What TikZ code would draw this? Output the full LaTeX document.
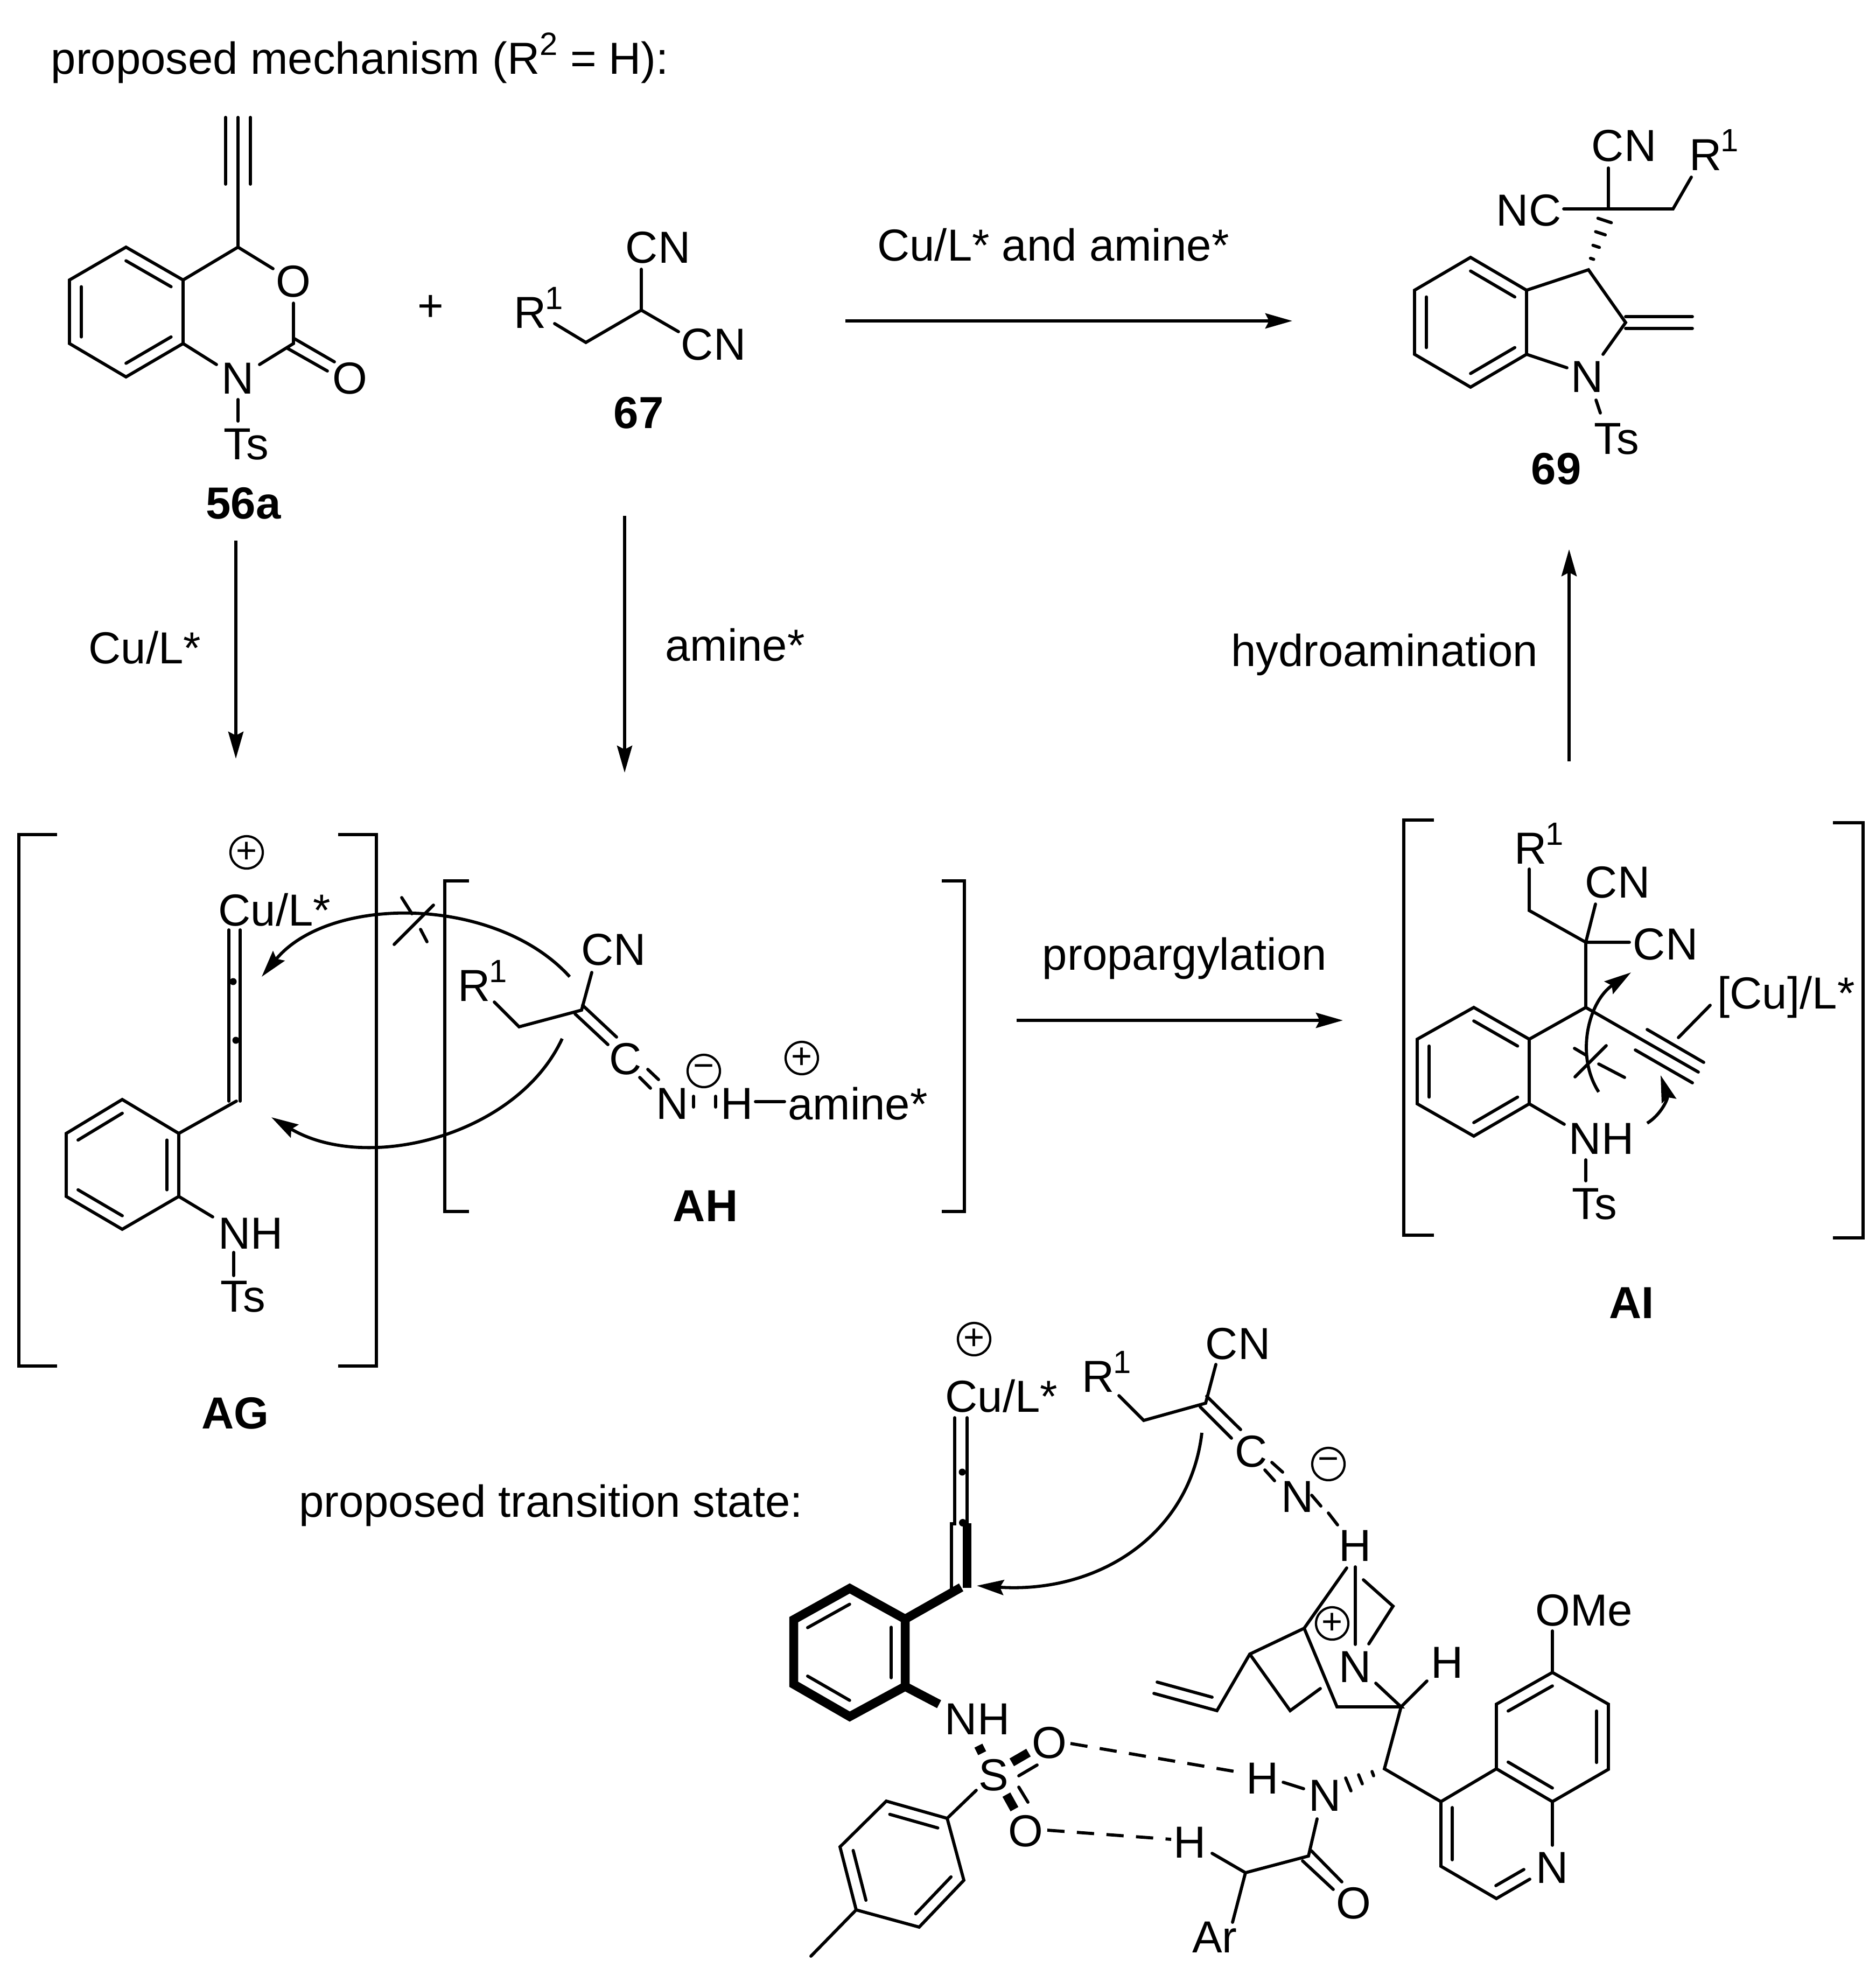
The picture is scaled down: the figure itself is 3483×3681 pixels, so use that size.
\documentclass[tikz,border=0pt]{standalone}
\usepackage{fontspec}
\setmainfont{Liberation Sans}
\usetikzlibrary{arrows.meta,calc}
\tikzset{
	bond/.style={line width=1.65pt, line cap=round},
	heavy/.style={line width=4.7pt},
	rxn/.style={line width=1.65pt, -{Stealth[length=0.5cm, width=0.28cm, inset=0.07cm]}},
	hbond/.style={line width=1.65pt, dash pattern=on 0.32cm off 0.23cm},
	txt/.style={font=\fontsize{23.7}{27}\selectfont, inner sep=0pt},
	sup/.style={font=\fontsize{17}{20}\selectfont, inner sep=0pt},
	tag/.style={font=\fontsize{23.7}{27}\selectfont\bfseries, inner sep=0pt},
	charge/.style={circle, draw, line width=1.2pt, minimum size=0.6cm, inner sep=0pt, font=\fontsize{19}{20}\selectfont},
}
\newcommand{\ringin}{.79}
\newcommand{\hexring}[8][bond]{%
	\coordinate (#2a) at (#3); \coordinate (#2b) at (#4); \coordinate (#2c) at (#5);
	\coordinate (#2d) at (#6); \coordinate (#2e) at (#7); \coordinate (#2f) at (#8);
	\coordinate (#2o) at ($(#2a)!.5!(#2d)$);
	\draw[#1, line cap=butt] (#2a) -- (#2b) -- (#2c) -- (#2d) -- (#2e) -- (#2f) -- cycle;
	\foreach \u/\v in {a/b, c/d, e/f}
		\draw[bond] ($(#2o)!\ringin!(#2\u)$) -- ($(#2o)!\ringin!(#2\v)$);
}
\begin{document}
\begin{tikzpicture}[x=0.01cm, y=-0.01cm]
	\useasboundingbox (0,0) rectangle (3483,3681);
	\node[txt, anchor=west] (title) at (94,108) {proposed mechanism (R\raisebox{0.42em}{\fontsize{17}{20}\selectfont 2} = H):};
	\node[txt] (tstitle) at (1023,2796) {proposed transition state:};

	% brackets
	\foreach \x/\a/\t/\b in {35/106/1550/2537, 699/628/1550/2537, 826/871/1636/2250, 1791/1749/1636/2250, 2607/2663/1523/2294, 3460/3404/1528/2299}
		\draw[bond, line cap=butt] (\a,\t) -| (\x,\b) -- (\a,\b);

	% R1 groups
	\foreach \n/\p in {rb/{985,581}, rc/{3168,288}, rd/{881,1831}, re/{2843,1576}, rf/{2040,2557}} {
		\node[txt] (\n) at (\p) {R};
		\node[sup] at ($(\n)+(44,-27)$) {1};
	}

	% 56a
	\hexring{oxa}{234,459}{340,520}{340,638}{234,700}{129,638}{129,520}
	\node[txt] (oxaO) at (545,523) {O};
	\node[txt] (oxaN) at (442,703) {N};
	\node[txt] (oxaCO) at (650,703) {O};
	\node[txt] (oxaTs) at (457,825) {Ts};
	\node[tag] (n56a) at (452,935) {56a};
	\node[txt] (plus) at (800,572) {+};
	\coordinate (oxaC) at (442,459);
	\coordinate (oxaK) at (545,638);
	\draw[bond] (oxab) -- (oxaC) -- (507,499);
	\draw[bond] (oxaC) -- (442,218);
	\draw[bond] (419,218) -- (419,342) (465,218) -- (465,342);
	\draw[bond] (545,563) -- (oxaK) -- (482,677);
	\draw[bond] (oxac) -- (402,677);
	\draw[bond] (545,628) -- (621,672) (534,647) -- (608,689);
	\draw[bond] (442,742) -- (442,782);

	% 67
	\node[txt] (cnb) at (1222,460) {CN};
	\node[txt] (cnc) at (1325,640) {CN};
	\node[tag] (n67) at (1186,767) {67};
	\draw[bond] (1030,601) -- (1088,636) -- (1191,576) -- (1191,500);
	\draw[bond] (1191,576) -- (1260,616);

	% 69
	\hexring{ind}{2731,478}{2835,539}{2835,658}{2731,719}{2627,658}{2627,539}
	\node[txt] (indN) at (2948,700) {N};
	\node[txt] (indTs) at (3002,815) {Ts};
	\node[txt] (indCN) at (3016,271) {CN};
	\node[txt] (indNC) at (2839,391) {NC};
	\node[tag] (n69) at (2890,871) {69};
	\coordinate (indC) at (2950,501);
	\coordinate (indD) at (3019,599);
	\coordinate (indQ) at (2987,388);
	\draw[bond] (indb) -- (indC) -- (indD) -- (2977,658);
	\draw[bond] (indc) -- (2910,683);
	\draw[bond] (2964,743) -- (2972,767);
	\draw[bond] (indD) ++(0,-11) -- (3143,588) (indD) ++(0,11) -- (3143,610);
	\draw[bond] (2904,388) -- (indQ) -- (3107,388) -- (3141,329);
	\draw[bond] (indQ) -- (2987,312);
	\foreach \t/\w in {.18/3,.385/6,.6/9,.81/12.5}
		\draw[bond] ($(indC)!\t!(indQ)+(-\w,{-\w*.33})$) -- ($(indC)!\t!(indQ)+(\w,{\w*.33})$);

	% AG
	\hexring{ag}{332,2105}{332,2222}{227,2283}{123,2222}{123,2105}{227,2042}
	\node[txt] (agCu) at (510,1690) {Cu/L*};
	\node[charge] (agPlus) at (458,1583) {+};
	\node[txt] (agNH) at (466,2291) {NH};
	\node[txt] (agTs) at (451,2408) {Ts};
	\node[tag] (nAG) at (437,2625) {AG};
	\draw[bond] (aga) -- (439,2045);
	\draw[bond] (425,1727) -- (425,2045) (446,1727) -- (446,2045);
	\fill (433,1823) circle [radius=0.065cm] (438,1932) circle [radius=0.065cm];
	\draw[bond] (agb) -- (395,2260);
	\draw[bond] (434,2326) -- (434,2369);

	% AH
	\node[txt] (ahCN) at (1140,1764) {CN};
	\node[txt] (ahC) at (1162,1967) {C};
	\node[txt] (ahN) at (1249,2050) {N};
	\node[txt] (ahH) at (1369,2050) {H};
	\node[txt] (ahAm) at (1593,2050) {amine*};
	\node[charge] (ahPlus) at (1489,1965) {+};
	\node[charge] (ahMinus) at (1307,1989) {−};
	\node[tag] (nAH) at (1310,2240) {AH};
	\draw[bond] (918,1861) -- (964,1907) -- (1080,1876) -- (1099,1806);
	\draw[bond] (1082,1867) -- (1145,1926) (1068,1883) -- (1129,1940);
	\draw[bond] (1203,1986) -- (1223,2005) (1188,2001) -- (1208,2021);
	\draw[bond] (1288,2036) -- (1288,2056) (1329,2036) -- (1329,2056);
	\draw[bond] (1403,2046) -- (1457,2046);

	% AI
	\hexring{ai}{2737,1871}{2840,1930}{2840,2050}{2737,2110}{2632,2050}{2632,1930}
	\node[txt] (aiCNa) at (3004,1639) {CN};
	\node[txt] (aiCNb) at (3093,1754) {CN};
	\node[txt] (aiCu) at (3317,1852) {[Cu]/L*};
	\node[txt] (aiNH) at (2974,2115) {NH};
	\node[txt] (aiTs) at (2961,2236) {Ts};
	\node[tag] (nAI) at (3030,2420) {AI};
	\coordinate (aiC) at (2945,1871);
	\coordinate (aiQ) at (2945,1750);
	\draw[bond] (aib) -- (aiC) -- (aiQ) -- (2840,1691) -- (2840,1614);
	\draw[bond] (aiQ) -- (2963,1679) (aiQ) -- (3026,1750);
	\draw[bond] (aiC) -- (3154,1991);
	\draw[bond] (3059,1912) -- (3164,1973) (3037,1950) -- (3143,2011);
	\draw[bond] (3117,1927) -- (3176,1867);
	\draw[bond] (aic) -- (2905,2088);
	\draw[bond] (2945,2154) -- (2945,2193);

	% reaction arrows
	\coordinate (rxAa) at (1570,596);
	\coordinate (rxAb) at (2400,596);
	\coordinate (rxBa) at (438,1004);
	\coordinate (rxBb) at (438,1409);
	\coordinate (rxCa) at (1160,958);
	\coordinate (rxCb) at (1160,1435);
	\coordinate (rxDa) at (1888,1895);
	\coordinate (rxDb) at (2494,1895);
	\coordinate (rxEa) at (2914,1414);
	\coordinate (rxEb) at (2914,1020);
	\foreach \a/\b in {rxAa/rxAb, rxBa/rxBb, rxCa/rxCb, rxDa/rxDb, rxEa/rxEb}
		\draw[rxn] (\a) -- (\b);
	\node[txt] (lbA) at (1956,455) {Cu/L* and amine*};
	\node[txt] (lbB) at (269,1203) {Cu/L*};
	\node[txt] (lbC) at (1365,1198) {amine*};
	\node[txt] (lbD) at (2200,1780) {propargylation};
	\node[txt] (lbE) at (2571,1216) {hydroamination};

	% curved arrows
	\draw[rxn] (1058,1814) .. controls (920,1662) and (611,1662) .. (486,1814);
	\draw[rxn] (1044,1929) .. controls (960,2110) and (680,2180) .. (504,2075);
	\draw[rxn] (2969,2028) .. controls (2925,1960) and (2950,1860) .. (3029,1806);
	\draw[rxn] (3059,2086) .. controls (3085,2070) and (3098,2040) .. (3084,1997);
	\draw[bond] (805,1681) -- (732,1754) (746,1667) -- (765,1697) (781,1726) -- (793,1749);
	\draw[bond] (2983,1942) -- (2925,2000) (2924,1947) -- (2946,1960) (2969,1976) -- (3017,2001);

	% transition state
	\renewcommand{\ringin}{.75}
	\hexring[heavy]{ts}{1681,3007}{1681,3132}{1578,3188}{1474,3128}{1474,3008}{1578,2950}
	\renewcommand{\ringin}{.79}
	\node[txt] (tsCu) at (1860,2593) {Cu/L*};
	\node[charge] (tsPlus) at (1809,2487) {+};
	\node[txt] (tsCN) at (2299,2496) {CN};
	\node[txt] (tsC) at (2324,2696) {C};
	\node[txt] (tsN) at (2410,2780) {N};
	\node[charge] (tsMinus) at (2467,2719) {−};
	\node[txt] (tsH) at (2517,2871) {H};
	\draw[bond] (1773,2633) -- (1773,2830) -- (1767,2830) -- (1767,2950);
	\draw[bond] (1796,2633) -- (1796,2830);
	\draw[heavy] (1796,2829) -- (1796,2949);
	\draw[heavy] (tsa) -- (1785,2948);
	\fill (1787,2734) circle [radius=0.065cm] (1788,2828) circle [radius=0.07cm];
	\draw[bond] (2078,2592) -- (2124,2638) -- (2239,2606) -- (2258,2534);
	\draw[bond] (2241,2593) -- (2304,2655) (2229,2613) -- (2287,2671);
	\draw[bond] (2362,2716) -- (2382,2734) (2349,2730) -- (2367,2750);
	\draw[bond] (2436,2777) -- (2453,2797) (2467,2810) -- (2484,2832);
	\draw[rxn] (2232,2661) .. controls (2210,2850) and (2040,2960) .. (1814,2945);

	% quinuclidine
	\node[txt] (qnN) at (2517,3096) {N};
	\node[charge] (qnPlus) at (2474,3015) {+};
	\node[txt] (qnH) at (2688,3088) {H};
	\coordinate (qnJ) at (2422,3024);
	\coordinate (qnV) at (2321,3072);
	\coordinate (qnK) at (2602,3170);
	\draw[bond] (2517,2910) -- (2517,3054);
	\draw[bond] (2501,2912) -- (qnJ) -- (qnV) -- (2260,3177) -- (2143,3145);
	\draw[bond] (2251,3152) -- (2149,3124);
	\draw[bond] (2532,2934) -- (2587,2983) -- (2542,3053);
	\draw[bond] (qnV) -- (2396,3177) -- (2452,3136);
	\draw[bond] (qnJ) -- (2483,3170) -- (qnK) -- (2555,3126);
	\draw[bond] (qnK) -- (2650,3122);

	% quinoline
	\hexring{qa}{2779,3165}{2883,3106}{2987,3165}{2987,3286}{2883,3346}{2779,3285}
	\node[txt] (qaO) at (2942,2991) {OMe};
	\node[txt] (qaN) at (2883,3469) {N};
	\coordinate (qaK) at (2676,3346);
	\coordinate (qaL) at (2676,3466);
	\coordinate (qaM) at (2779,3526);
	\coordinate (qnC) at (2571,3285);
	\draw[bond] (qab) -- (2883,3029);
	\draw[bond] (qaf) -- (qaK) -- (qaL) -- (qaM) -- (2841,3490);
	\draw[bond] (2697,3357) -- (2697,3454);
	\draw[bond] (2778,3502) -- (2830,3472);
	\draw[bond] (qae) -- (2883,3427);
	\draw[bond] (qnK) -- (qnC) -- (qaK);

	% sulfonamide
	\node[txt] (tsNH) at (1815,3193) {NH};
	\node[txt] (tsS) at (1845,3297) {S};
	\node[txt] (tsOa) at (1949,3237) {O};
	\node[txt] (tsOb) at (1905,3401) {O};
	\draw[heavy] (tsb) -- (1744,3165);
	\draw[heavy] (1817,3242) -- (1824,3256);
	\draw[heavy] (1879,3273) -- (1910,3255) (1869,3333) -- (1884,3360);
	\draw[bond] (1892,3298) -- (1926,3278) (1892,3319) -- (1909,3347);
	\hexring{tol}{1646,3345}{1759,3377}{1790,3492}{1707,3579}{1590,3547}{1560,3430}
	\draw[bond] (1813,3325) -- (tolb);
	\draw[bond] (tole) -- (1506,3633);

	% amide
	\node[txt] (amH) at (2345,3303) {H};
	\node[txt] (amN) at (2461,3335) {N};
	\node[txt] (amO) at (2514,3535) {O};
	\node[txt] (amHb) at (2210,3422) {H};
	\node[txt] (amAr) at (2256,3598) {Ar};
	\coordinate (amC) at (2430,3447);
	\coordinate (amQ) at (2313,3478);
	\draw[hbond] (1988,3238) -- (2311,3293);
	\draw[hbond] (1945,3399) -- (2175,3416);
	\draw[bond] (2383,3310) -- (2421,3322);
	\draw[bond] (2446,3378) -- (amC) -- (amQ) -- (2251,3442);
	\draw[bond] (amQ) -- (2289,3570);
	\draw[bond] (2435,3437) -- (2492,3495) (2419,3456) -- (2476,3509);
	\draw[bond] (2548,3290) -- (2551,3298) (2523,3296) -- (2530,3313) (2499,3302) -- (2509,3326);
\end{tikzpicture}
\end{document}
